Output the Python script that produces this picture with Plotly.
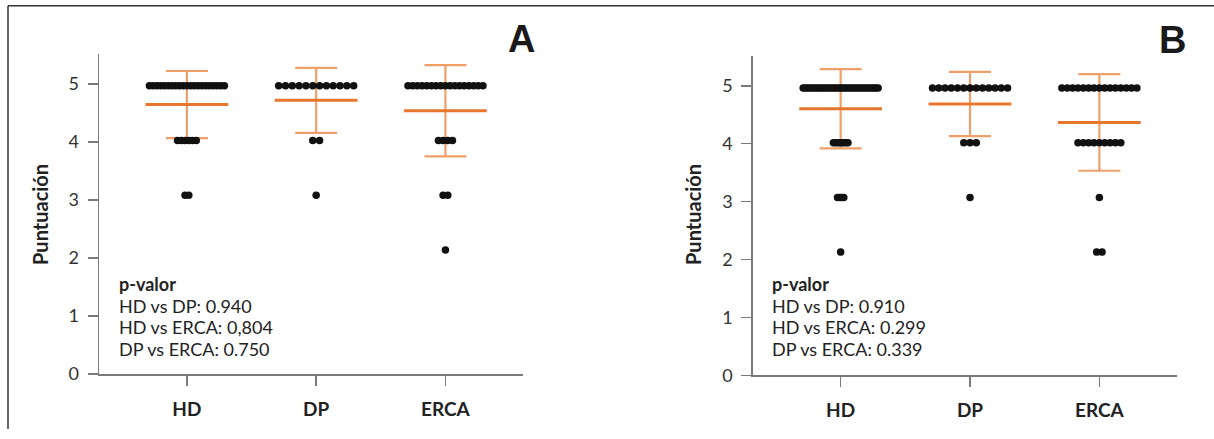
import numpy as np
import plotly.graph_objects as go

# ---------------- data ----------------
categories = ["HD", "DP", "ERCA"]
score_levels = [5, 4, 3, 2]
# number of patients at each score level (5, 4, 3, 2)
counts_A = {"HD": [21, 6, 2, 0], "DP": [12, 2, 1, 0], "ERCA": [17, 4, 2, 1]}
counts_B = {"HD": [37, 8, 4, 1], "DP": [13, 3, 1, 0], "ERCA": [15, 9, 1, 2]}
y_ticks = [0, 1, 2, 3, 4, 5]
pvals_A = ["HD vs DP: 0.940", "HD vs ERCA: 0,804", "DP vs ERCA: 0.750"]
pvals_B = ["HD vs DP: 0.910", "HD vs ERCA: 0.299", "DP vs ERCA: 0.339"]
panel_labels = ["A", "B"]
y_title = "Puntuación"
p_title = "p-valor"

# ---------------- style ----------------
W, H = 1214, 439
FONT = "Lato"
DOT_COLOR = "#111111"
MEAN_COLOR = "#E8772E"
SD_COLOR = "#EFA06A"
AXIS_COLOR = "#7a7a7a"
SPREAD = 0.58      # horizontal spread (category units) of the widest row
MEAN_HALF = 0.32   # half width of the mean bar


def px_x(p):
    return p / W


def px_y(p):
    return 1 - p / H


fig = go.Figure()


def add_panel(counts, xa, ya):
    for ci, cat in enumerate(categories):
        c = counts[cat]
        vals = np.repeat(score_levels, c)
        mean = vals.mean()
        sd = vals.std(ddof=1)
        step = SPREAD / (max(c) - 1)
        # SD whiskers
        fig.add_trace(go.Scatter(
            x=[ci], y=[mean], mode="markers", xaxis=xa, yaxis=ya,
            marker=dict(size=1, color="rgba(0,0,0,0)"),
            error_y=dict(type="data", array=[sd], symmetric=True,
                         color=SD_COLOR, thickness=2.2, width=21),
            showlegend=False, hoverinfo="skip"))
        # mean bar
        fig.add_trace(go.Scatter(
            x=[ci - MEAN_HALF, ci + MEAN_HALF], y=[mean, mean], mode="lines",
            xaxis=xa, yaxis=ya, line=dict(color=MEAN_COLOR, width=3),
            showlegend=False, hoverinfo="skip"))
        # individual points
        xs, ys = [], []
        for lvl, n in zip(score_levels, c):
            for i in range(n):
                xs.append(ci + (i - (n - 1) / 2) * step)
                ys.append(lvl)
        fig.add_trace(go.Scatter(
            x=xs, y=ys, mode="markers", xaxis=xa, yaxis=ya,
            marker=dict(size=7.5, color=DOT_COLOR, line=dict(width=0)),
            showlegend=False, hoverinfo="skip"))


add_panel(counts_A, "x", "y")
add_panel(counts_B, "x2", "y2")
# carrier traces for the visible score axes
fig.add_trace(go.Scatter(x=[None], y=[None], xaxis="x", yaxis="y3",
                         showlegend=False, hoverinfo="skip"))
fig.add_trace(go.Scatter(x=[None], y=[None], xaxis="x2", yaxis="y4",
                         showlegend=False, hoverinfo="skip"))

# panel geometry (pixels)
A_x0, A_x1, A_top, A_bot = 99, 523, 55, 382.5
B_x0, B_x1, B_top, B_bot = 752.7, 1177, 57, 384

xcommon = dict(
    tickvals=[0, 1, 2], ticktext=categories, range=[-0.68, 2.6],
    showline=True, linecolor=AXIS_COLOR, linewidth=2,
    ticks="outside", ticklen=10, tickwidth=1.5, tickcolor=AXIS_COLOR,
    showgrid=False, zeroline=False, fixedrange=True,
    tickfont=dict(family=FONT, size=19, color="#222222", weight="bold"),
    ticklabelstandoff=7,
)
ydata = dict(visible=False, showgrid=False, zeroline=False, fixedrange=True)
yvis = dict(
    tickvals=y_ticks, showline=True, linecolor=AXIS_COLOR, linewidth=1.5,
    ticks="outside", ticklen=10, tickwidth=1.5, tickcolor=AXIS_COLOR,
    showgrid=False, zeroline=False, fixedrange=True,
    tickfont=dict(family=FONT, size=18, color="#333333"),
    ticklabelstandoff=5,
)

fig.update_layout(
    width=W, height=H,
    margin=dict(l=0, r=0, t=0, b=0),
    paper_bgcolor="white", plot_bgcolor="white",
    font=dict(family=FONT, color="#222222"),
    xaxis=dict(domain=[px_x(A_x0), px_x(A_x1)], anchor="y", **xcommon),
    xaxis2=dict(domain=[px_x(B_x0), px_x(B_x1)], anchor="y2", **xcommon),
    # data scales (as plotted in the original figure)
    yaxis=dict(domain=[px_y(A_bot), px_y(A_top)], anchor="x",
               range=[-0.264, 5.584], **ydata),
    yaxis2=dict(domain=[px_y(B_bot), px_y(B_top)], anchor="x2",
                range=[-0.25, 5.589], **ydata),
    # visible score axes
    yaxis3=dict(domain=[px_y(A_bot), px_y(A_top)], anchor="x", overlaying="y",
                range=[0, 5.523], **yvis),
    yaxis4=dict(domain=[px_y(B_bot), px_y(B_top)], anchor="x2", overlaying="y2",
                range=[0, 5.52], **yvis),
)

annotations = []
# axis titles
for xc, yc in [(40, 220), (693, 220)]:
    annotations.append(dict(
        x=px_x(xc), y=px_y(yc), xref="paper", yref="paper", text=y_title,
        textangle=-90, showarrow=False, xanchor="center", yanchor="middle",
        font=dict(family=FONT, size=20, color="#222222", weight="bold")))
# p-value boxes
for x0, lines in [(117, pvals_A), (770, pvals_B)]:
    annotations.append(dict(
        x=px_x(x0), y=px_y(291), xref="paper", yref="paper",
        text="<b>" + p_title + "</b>", showarrow=False,
        xanchor="left", yanchor="middle",
        font=dict(family=FONT, size=18, color="#222222")))
    for k, t in enumerate(lines):
        annotations.append(dict(
            x=px_x(x0), y=px_y(313 + k * 22), xref="paper", yref="paper",
            text=t, showarrow=False, xanchor="left", yanchor="middle",
            font=dict(family=FONT, size=18, color="#222222")))
# panel letters
for (xc, yc), lab in zip([(521.5, 40), (1172, 41)], panel_labels):
    annotations.append(dict(
        x=px_x(xc), y=px_y(yc), xref="paper", yref="paper", text="<b>" + lab + "</b>",
        showarrow=False, xanchor="center", yanchor="middle",
        font=dict(family="Liberation Sans", size=38, color="#1a1a1a")))
fig.update_layout(annotations=annotations)

# frame (top and left border of the figure)
fig.update_layout(shapes=[
    dict(type="line", xref="paper", yref="paper", x0=px_x(8), x1=1,
         y0=px_y(6), y1=px_y(6), line=dict(color="#333333", width=1.5)),
    dict(type="line", xref="paper", yref="paper", x0=px_x(8), x1=px_x(8),
         y0=px_y(6), y1=0, line=dict(color="#333333", width=1.5)),
])

fig.write_html(
    "out.html",
    config={"displayModeBar": False, "staticPlot": True},
    post_script=("document.documentElement.style.margin='0';"
                 "document.documentElement.style.overflow='hidden';"
                 "document.body.style.margin='0';"
                 "document.body.style.padding='0';"
                 "document.body.style.overflow='hidden';"),
)
